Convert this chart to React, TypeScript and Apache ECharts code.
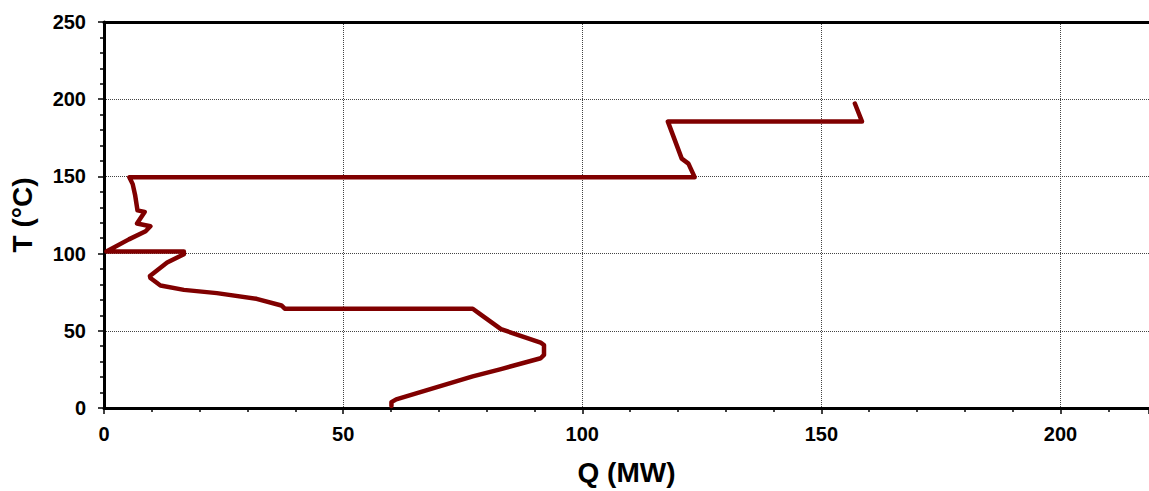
import React, { useEffect, useRef } from "react";
import * as echarts from "echarts";

const qValues: number[] = [
  60.1, 60.1, 61.1, 77.1, 83.0, 91.3, 92.0, 92.0, 91.3, 83.0, 78.5, 77.1,
  37.8, 37.1, 31.9, 23.6, 16.7, 11.8, 9.7, 9.6, 13.2, 16.7, 16.7, 0.5,
  5.2, 8.7, 9.7, 6.9, 8.5, 7.0, 6.5, 6.0, 5.3, 18.7, 123.5, 122.2, 120.8,
  117.9, 158.5, 157.0,
];
const tValues: number[] = [
  1.3, 3.8, 5.6, 20.5, 25.2, 32.2, 34.4, 40.8, 42.3, 51.1, 61.1, 64.3,
  64.3, 66.4, 70.7, 74.4, 76.5, 79.3, 84.2, 85.5, 94.2, 99.6, 101.3, 101.3,
  109.2, 114.5, 117.7, 119.5, 127.0, 128.0, 138.0, 145.0, 149.5, 149.5,
  149.5, 158.3, 161.5, 185.5, 185.5, 197.2,
];

const xName = "Q (MW)";
const yName = "T (°C)";
const FONT = "'Liberation Sans', Arial, Helvetica, sans-serif";

export default function App() {
  const ref = useRef<HTMLDivElement>(null);
  useEffect(() => {
    if (!ref.current) return;
    const chart = echarts.init(ref.current, null, { renderer: "svg" });
    const data = qValues.map((q, i) => [q, tValues[i]]);
    const labelStyle = {
      color: "#000",
      fontSize: 20,
      fontWeight: "bold" as const,
      fontFamily: FONT,
    };
    chart.setOption({
      animation: false,
      backgroundColor: "#fff",
      grid: { left: 100, right: 0, top: 22, bottom: 79, containLabel: false },
      xAxis: [
        {
          type: "value",
          min: 0,
          max: 218.5,
          interval: 50,
          name: xName,
          nameLocation: "middle",
          nameGap: 50,
          nameTextStyle: {
            color: "#000",
            fontSize: 28,
            fontWeight: "bold",
            fontFamily: FONT,
          },
          axisLine: { show: true, lineStyle: { color: "#000", width: 3 } },
          axisTick: { show: true, inside: false, length: 6, lineStyle: { color: "#000", width: 1.5 } },
          minorTick: { show: true, splitNumber: 5, length: 4, lineStyle: { color: "#000", width: 1.5 } },
          axisLabel: {
            ...labelStyle,
            margin: 16,
            showMaxLabel: false,
            formatter: (v: number) => (v % 50 === 0 ? String(v) : ""),
          },
          splitLine: { show: true, lineStyle: { color: "#444", width: 1, type: "dotted" } },
          minorSplitLine: { show: false },
        },
        {
          type: "value",
          position: "top",
          min: 0,
          max: 218.5,
          interval: 50,
          axisLine: { show: true, lineStyle: { color: "#000", width: 3 } },
          axisTick: { show: false },
          axisLabel: { show: false },
          splitLine: { show: false },
        },
      ],
      yAxis: {
        type: "value",
        min: 0,
        max: 250,
        interval: 50,
        name: yName,
        nameLocation: "middle",
        nameGap: 68,
        nameTextStyle: {
          color: "#000",
          fontSize: 28,
          fontWeight: "bold",
          fontFamily: FONT,
        },
        axisLine: { show: true, lineStyle: { color: "#000", width: 3 } },
        axisTick: { show: true, inside: false, length: 6, lineStyle: { color: "#000", width: 1.5 } },
        minorTick: { show: true, splitNumber: 5, length: 4, lineStyle: { color: "#000", width: 1.5 } },
        axisLabel: { ...labelStyle, margin: 18 },
        splitLine: { show: true, lineStyle: { color: "#444", width: 1, type: "dotted" } },
        minorSplitLine: { show: false },
      },
      series: [
        {
          type: "line",
          xAxisIndex: 0,
          data,
          showSymbol: false,
          symbol: "none",
          lineStyle: { color: "#800000", width: 4.5, join: "round", cap: "round" },
        },
      ],
    });
    return () => chart.dispose();
  }, []);
  return (
    <div
      ref={ref}
      style={{ position: "absolute", left: 0, top: 0, width: 1149, height: 491 }}
    />
  );
}
